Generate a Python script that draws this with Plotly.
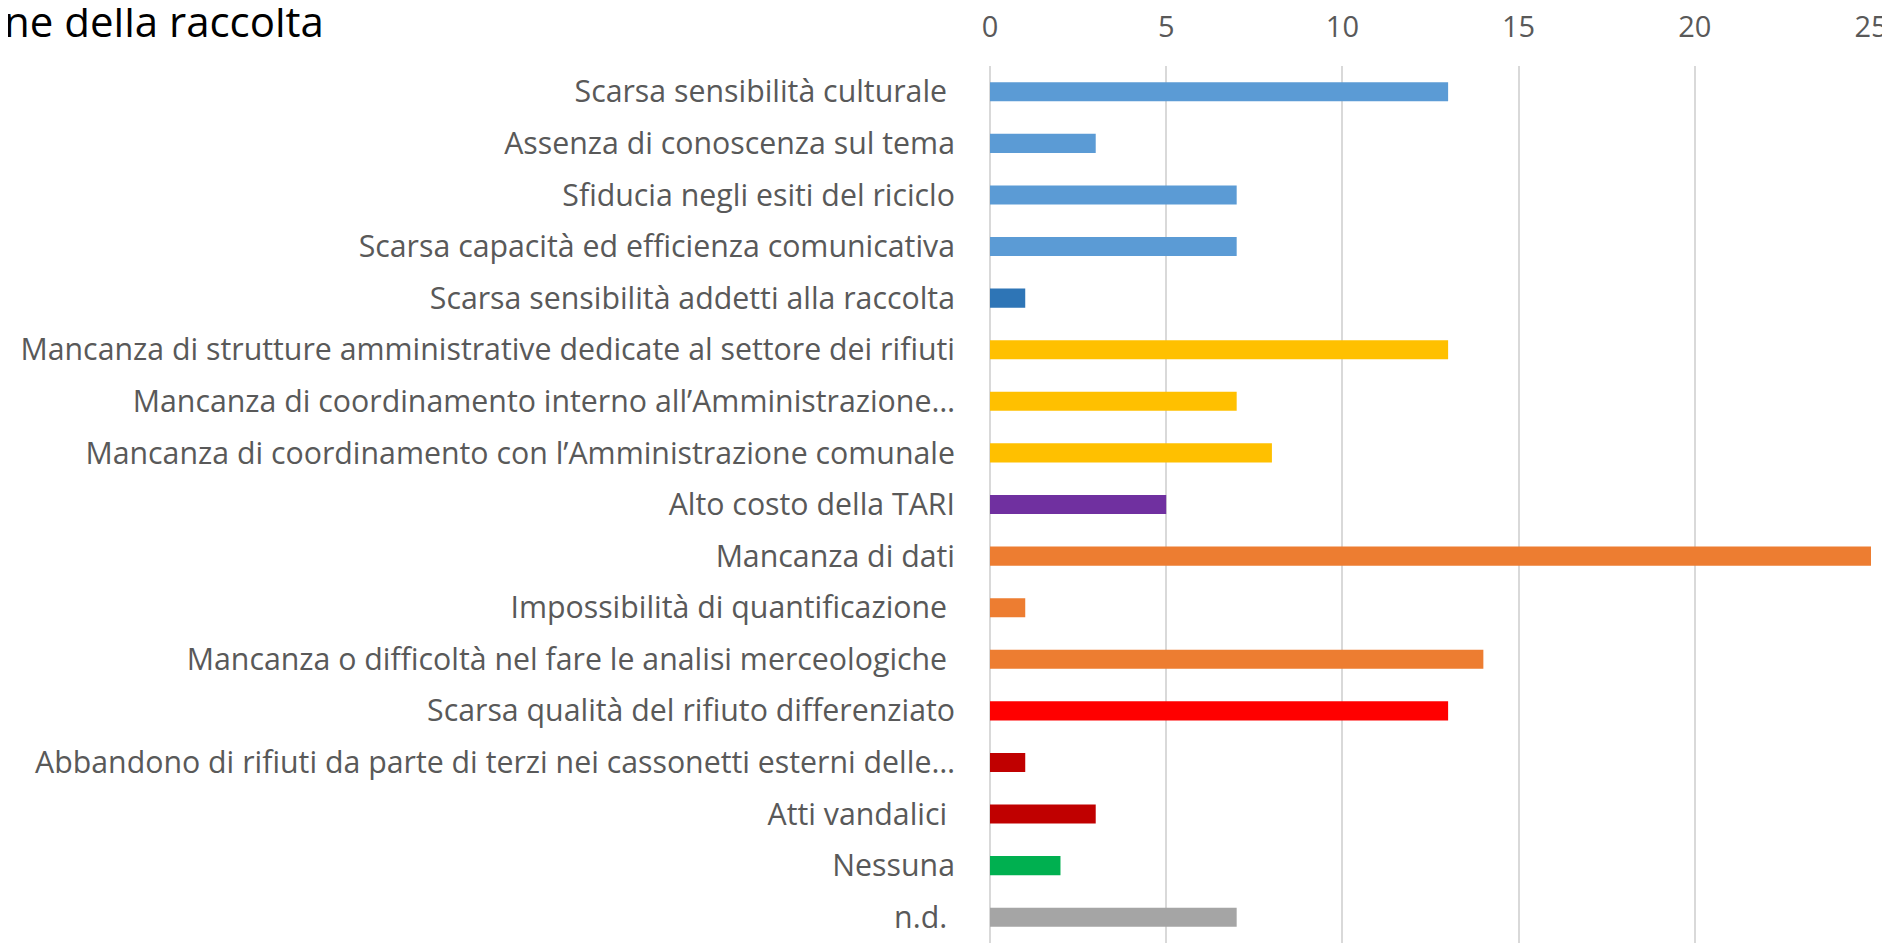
import plotly.graph_objects as go

NBSP = "\u00a0"

categories = [
    "Scarsa sensibilità culturale" + NBSP,
    "Assenza di conoscenza sul tema",
    "Sfiducia negli esiti del riciclo",
    "Scarsa capacità ed efficienza comunicativa",
    "Scarsa sensibilità addetti alla raccolta",
    "Mancanza di strutture amministrative dedicate al settore dei rifiuti",
    "Mancanza di coordinamento interno all’Amministrazione…",
    "Mancanza di coordinamento con l’Amministrazione comunale",
    "Alto costo della TARI",
    "Mancanza di dati",
    "Impossibilità di quantificazione" + NBSP,
    "Mancanza o difficoltà nel fare le analisi merceologiche" + NBSP,
    "Scarsa qualità del rifiuto differenziato",
    "Abbandono di rifiuti da parte di terzi nei cassonetti esterni delle…",
    "Atti vandalici" + NBSP,
    "Nessuna",
    "n.d." + NBSP,
]

values = [13, 3, 7, 7, 1, 13, 7, 8, 5, 25, 1, 14, 13, 1, 3, 2, 7]

x_ticks = [0, 5, 10, 15, 20, 25]

title_text = "ne della raccolta"

# styling (separate from data)
bar_colors = [
    "#5B9BD5", "#5B9BD5", "#5B9BD5", "#5B9BD5", "#2E75B6",
    "#FFC000", "#FFC000", "#FFC000",
    "#7030A0",
    "#ED7D31", "#ED7D31", "#ED7D31",
    "#FF0000",
    "#C00000", "#C00000",
    "#00B050",
    "#A5A5A5",
]

fig = go.Figure(
    go.Bar(
        x=values,
        y=categories,
        orientation="h",
        marker=dict(color=bar_colors, line=dict(width=0)),
        hoverinfo="x+y",
    )
)

font_family = "Open Sans"

# the page body has an 8px default margin; compensate so the chart lands where the reference is
fig.update_layout(
    template="none",
    width=1882,
    height=935,
    margin=dict(l=982, r=19, t=58, b=0, autoexpand=False),
    paper_bgcolor="white",
    plot_bgcolor="white",
    bargap=0.63,
    showlegend=False,
    title=dict(
        text=title_text,
        x=0,
        xref="container",
        xanchor="left",
        y=1,
        yref="container",
        yanchor="top",
        pad=dict(t=0, l=-4),
        font=dict(family=font_family, size=42, color="#000000"),
    ),
    font=dict(family=font_family, size=30, color="#595959"),
)

fig.update_xaxes(
    range=[0, 25],
    side="top",
    automargin=False,
    tickvals=x_ticks,
    ticktext=[str(v) for v in x_ticks],
    showgrid=True,
    gridcolor="#D9D9D9",
    gridwidth=2,
    zeroline=True,
    zerolinecolor="#D9D9D9",
    zerolinewidth=2,
    showline=False,
    ticks="",
    ticklabelstandoff=22,
    tickfont=dict(family=font_family, size=29, color="#595959"),
    fixedrange=True,
)

fig.update_yaxes(
    autorange="reversed",
    automargin=False,
    showgrid=False,
    showline=False,
    zeroline=False,
    ticks="",
    ticklabelstandoff=34,
    tickfont=dict(family=font_family, size=30.3, color="#595959"),
    fixedrange=True,
)

fig.write_html("out.html")
